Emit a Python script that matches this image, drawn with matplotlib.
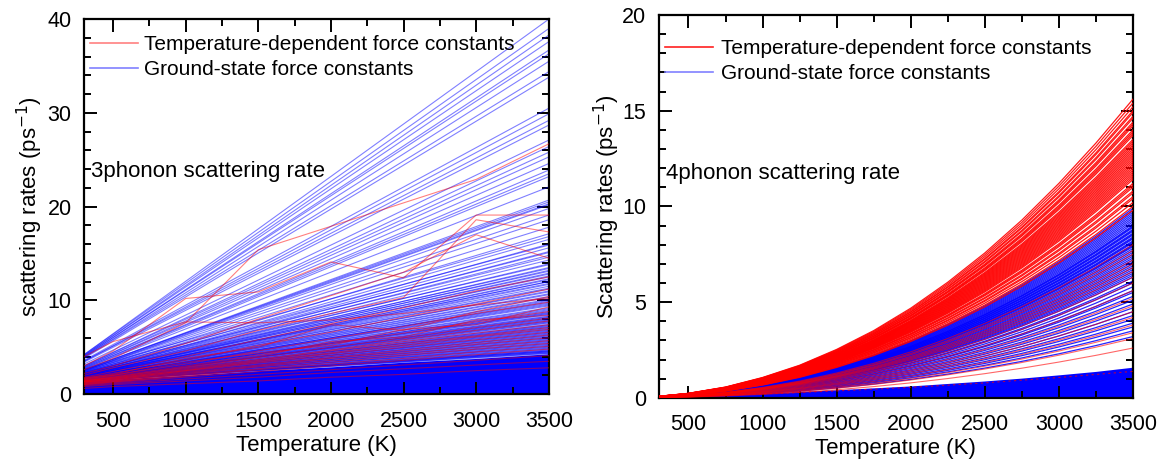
import matplotlib
matplotlib.use("Agg")
import matplotlib.pyplot as plt
from matplotlib.ticker import MultipleLocator
import numpy as np

plt.rcParams.update({"font.family": "Liberation Sans", "font.size": 15,
                     "axes.linewidth": 1.6})

# ---------------- 3-phonon panel ----------------
T3 = [300, 500, 1000, 1500, 2000, 2500, 3000, 3500]

# ground-state lines: straight, value at 300 K and at 3500 K
BLUE3_START = [4.2, 4.2, 4.1, 4.1, 4.0, 4.0, 3.9, 3.9, 3.8, 3.6, 3.5, 3.5, 3.4, 3.2,
               3.0, 3.0, 2.9, 2.9, 2.8, 2.8, 2.7, 2.7, 2.6, 2.6, 2.6, 2.5, 2.5, 2.5,
               2.4, 2.4, 2.3, 2.3, 2.2, 2.2, 2.2, 2.1, 2.1, 2.1, 2.0, 2.0, 2.0, 2.0,
               1.9, 1.9, 1.9, 1.9, 1.8, 1.8, 1.8, 1.8, 1.7, 1.7, 1.7, 1.7, 1.7, 1.6,
               1.6, 1.6, 1.6, 1.6, 1.5, 1.5, 1.5, 1.5, 1.5, 1.5, 1.5, 1.4]
BLUE3_END = [40.0, 39.0, 38.3, 37.6, 36.7, 36.3, 35.5, 34.4, 33.8, 30.5, 29.9, 29.2,
             28.7, 27.1, 26.4, 25.8, 25.3, 24.6, 23.9, 23.5, 23.2, 22.1, 20.7, 20.5,
             20.3, 20.2, 19.8, 19.1, 18.6, 17.8, 17.1, 16.5, 16.0, 15.6, 15.2, 14.8,
             14.3, 13.9, 13.5, 13.2, 12.9, 12.6, 12.3, 12.0, 11.7, 11.3, 11.0, 10.7,
             10.4, 10.1, 9.8, 9.5, 9.2, 8.9, 8.6, 8.3, 8.0, 7.7, 7.4, 7.1, 6.8, 6.5,
             6.2, 5.9, 5.6, 5.3, 5.0, 4.7]
# the crowded middle bundle of ground-state lines
BLUE3B_START = [2.6, 2.5, 2.4, 2.3, 2.3, 2.2, 2.2, 2.1, 2.1, 2.0, 2.0, 2.0, 1.9, 1.9,
                1.9, 1.8, 1.8, 1.8, 1.8, 1.7, 1.7, 1.7, 1.7, 1.6, 1.6, 1.6, 1.6, 1.6,
                1.5, 1.5, 1.5, 1.5, 1.5, 1.5, 1.4, 1.4, 1.4, 1.4, 1.4, 1.4,
                1.6, 1.5, 1.5, 1.5, 1.4, 1.4, 1.4, 1.4, 1.4, 1.4, 1.4, 1.4,
                1.4, 1.4, 1.4, 1.4]
BLUE3B_END = [16.8, 15.9, 15.1, 14.6, 13.8, 13.4, 13.1, 12.8, 12.5, 12.2, 12.0, 11.8,
              11.5, 11.2, 10.9, 10.6, 10.3, 10.0, 9.7, 9.6, 9.4, 9.1, 8.8, 8.7, 8.5,
              8.2, 7.9, 7.8, 7.6, 7.3, 7.0, 6.9, 6.7, 6.4, 6.1, 5.8, 5.5, 5.2, 4.9, 4.6,
              9.9, 9.0, 8.1, 7.2, 6.6, 6.3, 6.0, 5.7, 5.4, 5.1, 4.8, 4.5,
              4.6, 4.5, 4.4, 4.35]
# densely packed low-rate ground-state modes (upper envelope)
BLUE3_FLOOR = [1.4, 1.6, 2.0, 2.5, 2.9, 3.4, 3.8, 4.3]
# upper envelope of the heavily overlapped bundle just above it
BLUE3_DENSE = [1.8, 2.2, 3.3, 4.4, 5.5, 6.6, 7.7, 8.8]

# temperature-dependent lines (values at T3)
RED3 = [
    [4.0, 5.6, 7.7, 7.6, 7.9, 8.6, 9.5, 10.2],
    [3.0, 4.6, 10.2, 10.9, 14.1, 12.4, 19.1, 19.1],
    [2.6, 3.8, 7.6, 15.4, 17.9, 20.4, 22.9, 26.7],
    [2.2, 3.0, 5.4, 8.0, 10.5, 13.0, 17.0, 14.5],
    [2.0, 2.8, 4.6, 6.8, 8.6, 10.3, 18.6, 17.3],
    [1.8, 2.4, 4.0, 5.8, 7.5, 9.2, 11.0, 12.5],
    [1.7, 2.2, 3.6, 5.2, 6.6, 8.2, 9.6, 11.2],
    [1.7, 2.1, 3.8, 5.0, 7.4, 6.8, 8.8, 10.4],
    [1.6, 2.0, 3.2, 4.6, 5.9, 7.2, 8.6, 9.8],
    [1.6, 2.0, 3.4, 4.4, 5.2, 6.9, 7.4, 9.3],
    [1.5, 1.9, 3.0, 4.2, 5.4, 6.5, 7.7, 8.8],
    [1.5, 1.8, 2.9, 4.0, 5.6, 6.1, 7.9, 8.4],
    [1.4, 1.8, 2.8, 3.9, 5.0, 6.0, 7.1, 8.1],
    [1.4, 1.7, 2.7, 3.7, 4.7, 5.8, 6.8, 7.8],
    [1.4, 1.7, 2.6, 3.6, 4.6, 5.6, 6.5, 7.4],
    [1.3, 1.6, 2.5, 3.5, 4.4, 5.4, 6.2, 7.1],
    [1.3, 1.6, 2.5, 3.4, 4.3, 5.2, 6.1, 6.9],
    [1.3, 1.5, 2.4, 3.3, 4.1, 5.0, 5.8, 6.6],
    [1.2, 1.5, 2.3, 3.1, 3.9, 4.7, 5.5, 6.3],
    [1.2, 1.4, 2.2, 3.0, 3.8, 4.5, 5.3, 6.0],
    [1.1, 1.4, 2.1, 2.9, 3.6, 4.3, 5.0, 5.7],
    [1.1, 1.3, 2.0, 2.7, 3.4, 4.1, 4.8, 5.4],
    [1.0, 1.3, 1.9, 2.6, 3.2, 3.8, 4.5, 5.1],
    [1.0, 1.2, 1.8, 2.4, 3.0, 3.6, 4.2, 4.8],
    [0.9, 1.1, 1.6, 2.1, 2.6, 3.1, 3.6, 4.1],
    [0.8, 1.0, 1.4, 1.8, 2.3, 2.7, 3.1, 3.5],
    [0.6, 0.8, 1.1, 1.4, 1.8, 2.1, 2.5, 2.8],
]

# ---------------- 4-phonon panel ----------------
T4 = [300, 500, 750, 1000, 1250, 1500, 1750, 2000, 2250, 2500, 2750, 3000, 3250, 3500]
# curve shape relative to the 3500 K value
SHAPE4 = [0.005, 0.015, 0.036, 0.068, 0.109, 0.162, 0.225, 0.300, 0.387, 0.485,
          0.595, 0.718, 0.853, 1.0]
RED4_END = [15.6, 15.4, 15.2, 15.0, 14.9, 14.7, 14.6, 14.4, 14.3, 14.2, 14.0, 13.9,
            13.8, 13.7, 13.5, 13.4, 13.3, 13.2, 13.1, 13.0, 12.9, 12.8, 12.7, 12.6,
            12.5, 12.4, 12.3, 12.2, 12.1, 12.0, 11.9, 11.8, 11.7, 11.6, 11.5, 11.4,
            11.2, 11.1, 11.0, 10.8, 10.7, 10.5, 10.4, 10.2, 10.0, 9.8]
RED4_LOW_END = [8.0, 7.7, 7.5, 7.2, 7.0, 6.8, 6.6, 6.3, 6.0, 5.6, 5.2, 4.8, 4.5,
                4.2, 3.8, 3.4, 3.1, 2.6]
BLUE4_END = [9.9, 9.8, 9.7, 9.6, 9.5, 9.4, 9.3, 9.2, 9.1, 9.0, 8.95, 8.9, 8.8, 8.75,
             8.7, 8.6, 8.55, 8.5, 8.4, 8.35, 8.3, 8.2, 8.15, 8.1, 8.0, 7.95, 7.9,
             7.8, 7.7, 7.6, 7.5, 7.4, 7.3, 7.2, 7.1, 7.0, 6.9, 6.8, 6.7, 6.6, 6.5,
             6.4, 6.3, 6.1, 6.0, 5.8, 5.6, 5.5, 5.3, 5.1, 4.9, 4.7, 4.5, 4.3,
             4.1, 3.9, 3.7, 3.5, 3.2]
# packed low-rate ground-state band (upper envelope, at T4)
BLUE4_FLOOR = [0.08, 0.12, 0.18, 0.25, 0.33, 0.42, 0.52, 0.62, 0.75, 0.88,
               1.03, 1.2, 1.38, 1.6]
RED4_FLOOR = [0.06, 0.1, 0.15, 0.21, 0.28, 0.36, 0.45, 0.55, 0.66, 0.78,
              0.92, 1.06, 1.22, 1.38]

fig = plt.figure(figsize=(11.62, 4.68), dpi=100)
ax1 = fig.add_axes([0.0723, 0.158, 0.400, 0.801])
ax2 = fig.add_axes([0.567, 0.150, 0.408, 0.818])

# left panel
ax1.fill_between(T3, 0, BLUE3_FLOOR, color="#0000ff", lw=0, zorder=1)
ax1.fill_between(T3, BLUE3_FLOOR, BLUE3_DENSE, color="#0000ff", lw=0, alpha=0.3,
                 zorder=1)
for s, e in zip(BLUE3_START + BLUE3B_START, BLUE3_END + BLUE3B_END):
    ax1.plot([T3[0], T3[-1]], [s, e], color="#0000ff", lw=0.8, alpha=0.5, zorder=2)
for r in RED3:
    ax1.plot(T3, r, color="#ff0000", lw=0.8, alpha=0.5, zorder=3)
ax1.plot([], [], color="#ff8080", lw=1.2, label="Temperature-dependent force constants")
ax1.plot([], [], color="#8080ff", lw=1.2, label="Ground-state force constants")
ax1.set_xlim(300, 3500)
ax1.set_ylim(0, 40)
ax1.yaxis.set_major_locator(MultipleLocator(10))
ax1.yaxis.set_minor_locator(MultipleLocator(2))
ax1.set_ylabel("scattering rates (ps$^{-1}$)", fontsize=16, labelpad=2)
ax1.text(0.015, 0.595, "3phonon scattering rate", transform=ax1.transAxes,
         fontsize=16, va="center", ha="left")
ax1.legend(loc="upper left", bbox_to_anchor=(0.0, 0.975), frameon=False,
           fontsize=15, handlelength=2.3, borderaxespad=0.0, borderpad=0.3,
           labelspacing=0.3, handletextpad=0.3)

# right panel
shape = np.array(SHAPE4)
ax2.fill_between(T4, 0, BLUE4_FLOOR, color="#0000ff", lw=0, zorder=1)
for e in BLUE4_END:
    ax2.plot(T4, e * shape, color="#0000ff", lw=0.9, alpha=0.85, zorder=2)
for e in RED4_END:
    ax2.plot(T4, e * shape, color="#ff0000", lw=0.9, alpha=0.9, zorder=3)
for e in RED4_LOW_END:
    ax2.plot(T4, e * shape, color="#ff0000", lw=0.8, alpha=0.6, zorder=3)
ax2.plot(T4, RED4_FLOOR, color="#ff0000", lw=0.8, ls=(0, (2, 3)), alpha=0.7, zorder=3)
ax2.plot([], [], color="#ff2020", lw=1.2, label="Temperature-dependent force constants")
ax2.plot([], [], color="#8080ff", lw=1.2, label="Ground-state force constants")
ax2.set_xlim(300, 3500)
ax2.set_ylim(0, 20)
ax2.yaxis.set_major_locator(MultipleLocator(5))
ax2.yaxis.set_minor_locator(MultipleLocator(1))
ax2.set_ylabel("Scattering rates (ps$^{-1}$)", fontsize=16, labelpad=0)
ax2.text(0.015, 0.585, "4phonon scattering rate", transform=ax2.transAxes,
         fontsize=16, va="center", ha="left")
ax2.legend(loc="upper left", bbox_to_anchor=(0.0, 0.954), frameon=False,
           fontsize=15, handlelength=2.3, borderaxespad=0.0, borderpad=0.3,
           labelspacing=0.3, handletextpad=0.4)

for ax in (ax1, ax2):
    ax.xaxis.set_major_locator(MultipleLocator(500))
    ax.xaxis.set_minor_locator(MultipleLocator(250))
    ax.tick_params(which="both", direction="in", top=True, right=True, width=1.4)
    ax.tick_params(which="major", length=9, labelsize=15.5)
    ax.tick_params(axis="x", which="major", pad=12)
    ax.tick_params(axis="y", which="major", pad=9)
    ax.tick_params(which="minor", length=5)
    ax.set_xlabel("Temperature (K)", fontsize=16, labelpad=2)

fig.savefig("out.png", dpi=100)
